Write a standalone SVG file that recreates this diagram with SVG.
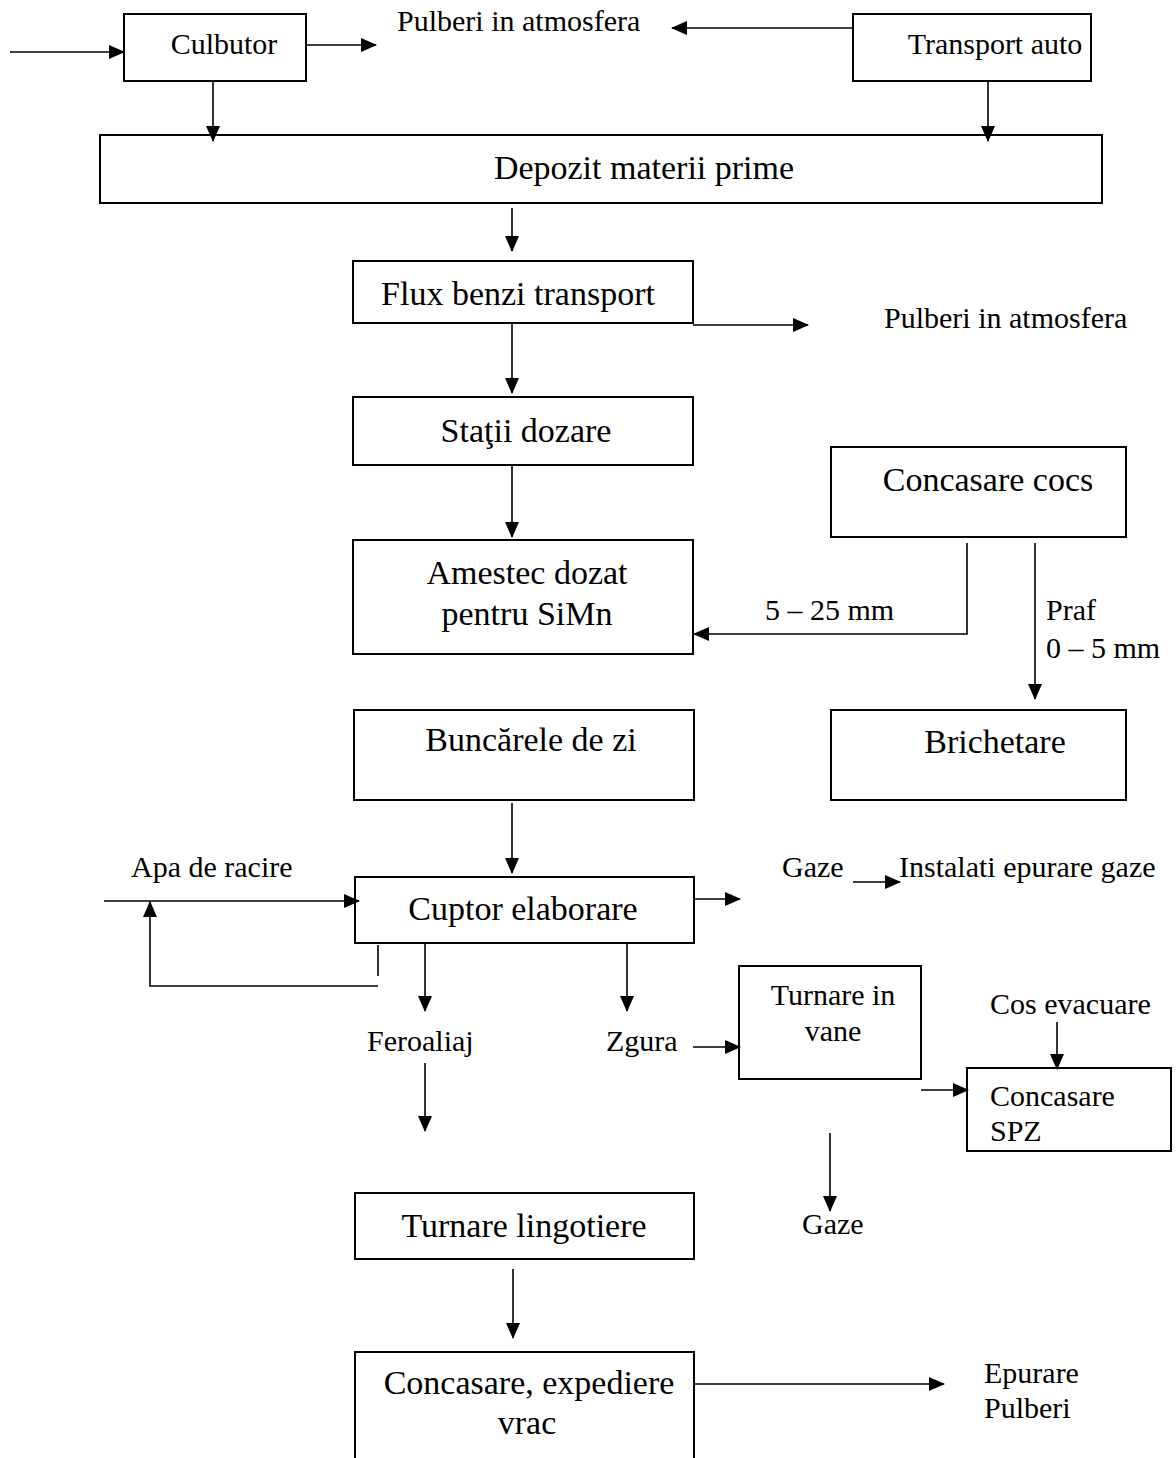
<svg xmlns="http://www.w3.org/2000/svg" width="1176" height="1458" viewBox="0 0 1176 1458">
<style>
.box{fill:none;stroke:#000;stroke-width:2}
.ln{fill:none;stroke:#000;stroke-width:1.6}
text{font-family:'Liberation Serif','Times New Roman','DejaVu Serif',serif;fill:#000}
.b{font-size:34px}
.s{font-size:30px}
.m{text-anchor:middle}
</style>
<defs>
<marker id="ah" markerUnits="userSpaceOnUse" markerWidth="16" markerHeight="14" refX="15" refY="7" orient="auto">
<path d="M0,0 L16,7 L0,14 Z" fill="#000"/>
</marker>
</defs>
<rect width="1176" height="1458" fill="#fff"/>
<g id="connectors">
<line class="ln" x1="10" y1="52" x2="124" y2="52" marker-end="url(#ah)"/>
<line class="ln" x1="306" y1="45" x2="376" y2="45" marker-end="url(#ah)"/>
<line class="ln" x1="853" y1="28" x2="672" y2="28" marker-end="url(#ah)"/>
<line class="ln" x1="213" y1="81" x2="213" y2="141" marker-end="url(#ah)"/>
<line class="ln" x1="988" y1="81" x2="988" y2="141" marker-end="url(#ah)"/>
<line class="ln" x1="512" y1="208" x2="512" y2="251" marker-end="url(#ah)"/>
<line class="ln" x1="693" y1="325" x2="808" y2="325" marker-end="url(#ah)"/>
<line class="ln" x1="512" y1="323" x2="512" y2="393" marker-end="url(#ah)"/>
<line class="ln" x1="512" y1="465" x2="512" y2="537" marker-end="url(#ah)"/>
<polyline class="ln" points="967,543 967,634 694,634" marker-end="url(#ah)"/>
<line class="ln" x1="1035" y1="543" x2="1035" y2="699" marker-end="url(#ah)"/>
<line class="ln" x1="512" y1="803" x2="512" y2="873" marker-end="url(#ah)"/>
<line class="ln" x1="104" y1="901" x2="359" y2="901" marker-end="url(#ah)"/>
<polyline class="ln" points="378,945 378,976"/>
<polyline class="ln" points="378,986 150,986 150,902" marker-end="url(#ah)"/>
<line class="ln" x1="694" y1="899" x2="740" y2="899" marker-end="url(#ah)"/>
<line class="ln" x1="853" y1="882" x2="900" y2="882" marker-end="url(#ah)"/>
<line class="ln" x1="425" y1="943" x2="425" y2="1011" marker-end="url(#ah)"/>
<line class="ln" x1="425" y1="1063" x2="425" y2="1131" marker-end="url(#ah)"/>
<line class="ln" x1="627" y1="943" x2="627" y2="1011" marker-end="url(#ah)"/>
<line class="ln" x1="693" y1="1047" x2="740" y2="1047" marker-end="url(#ah)"/>
<line class="ln" x1="921" y1="1090" x2="968" y2="1090" marker-end="url(#ah)"/>
<line class="ln" x1="1057" y1="1022" x2="1057" y2="1069" marker-end="url(#ah)"/>
<line class="ln" x1="830" y1="1133" x2="830" y2="1211" marker-end="url(#ah)"/>
<line class="ln" x1="513" y1="1269" x2="513" y2="1338" marker-end="url(#ah)"/>
<line class="ln" x1="694" y1="1384" x2="944" y2="1384" marker-end="url(#ah)"/>
</g>
<g id="culbutor"><rect class="box" x="124" y="14" width="182" height="67"/><text class="s m" x="224" y="54">Culbutor</text></g>
<g id="pulberi1"><text class="s" x="397" y="31">Pulberi in atmosfera</text></g>
<g id="transport"><rect class="box" x="853" y="14" width="238" height="67"/><text class="s m" x="995" y="54">Transport auto</text></g>
<g id="depozit"><rect class="box" x="100" y="135" width="1002" height="68"/><text class="b m" x="644" y="179">Depozit materii prime</text></g>
<g id="flux"><rect class="box" x="353" y="261" width="340" height="62"/><text class="b m" x="518" y="305">Flux benzi transport</text></g>
<g id="pulberi2"><text class="s" x="884" y="328">Pulberi in atmosfera</text></g>
<g id="statii"><rect class="box" x="353" y="397" width="340" height="68"/><text class="b m" x="526" y="442">Staţii dozare</text></g>
<g id="amestec"><rect class="box" x="353" y="540" width="340" height="114"/><text class="b m" x="527" y="584">Amestec dozat</text><text class="b m" x="527" y="625">pentru SiMn</text></g>
<g id="cocs"><rect class="box" x="831" y="447" width="295" height="90"/><text class="b m" x="988" y="491">Concasare cocs</text></g>
<g id="lbl-5-25"><text class="s" x="765" y="620">5 – 25 mm</text></g>
<g id="lbl-praf"><text class="s" x="1046" y="620">Praf</text><text class="s" x="1046" y="658">0 – 5 mm</text></g>
<g id="brichetare"><rect class="box" x="831" y="710" width="295" height="90"/><text class="b m" x="995" y="753">Brichetare</text></g>
<g id="buncarele"><rect class="box" x="354" y="710" width="340" height="90"/><text class="b m" x="531" y="751">Buncărele de zi</text></g>
<g id="apa"><text class="s" x="131" y="877">Apa de racire</text></g>
<g id="cuptor"><rect class="box" x="355" y="877" width="339" height="66"/><text class="b m" x="523" y="920">Cuptor elaborare</text></g>
<g id="gaze1"><text class="s" x="782" y="877">Gaze</text></g>
<g id="instalati"><text class="s" x="899" y="877">Instalati epurare gaze</text></g>
<g id="feroaliaj"><text class="s" x="367" y="1051">Feroaliaj</text></g>
<g id="zgura"><text class="s" x="606" y="1051">Zgura</text></g>
<g id="vane"><rect class="box" x="739" y="966" width="182" height="113"/><text class="s m" x="833" y="1005">Turnare in</text><text class="s m" x="833" y="1041">vane</text></g>
<g id="cos"><text class="s" x="990" y="1014">Cos evacuare</text></g>
<g id="spz"><rect class="box" x="967" y="1068" width="204" height="83"/><text class="s" x="990" y="1106">Concasare</text><text class="s" x="990" y="1141">SPZ</text></g>
<g id="gaze2"><text class="s" x="802" y="1234">Gaze</text></g>
<g id="lingotiere"><rect class="box" x="355" y="1193" width="339" height="66"/><text class="b m" x="524" y="1237">Turnare lingotiere</text></g>
<g id="expediere"><polyline class="box" points="355,1460 355,1352 694,1352 694,1460"/><text class="b m" x="529" y="1394">Concasare, expediere</text><text class="b m" x="527" y="1434">vrac</text></g>
<g id="epurare"><text class="s" x="984" y="1383">Epurare</text><text class="s" x="984" y="1418">Pulberi</text></g>
</svg>
